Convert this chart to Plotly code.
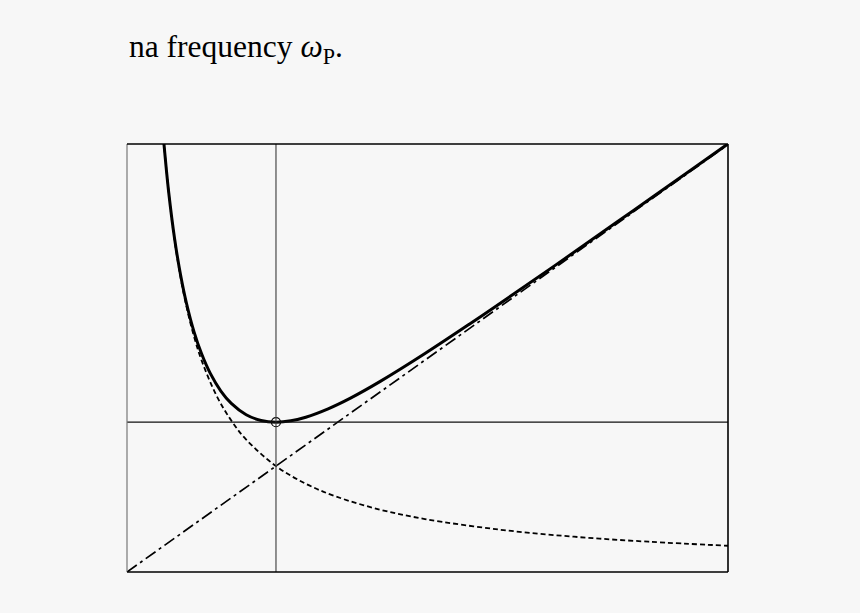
import plotly.graph_objects as go

# readings (x in units of the marked frequency)
x_solid = [0.245, 0.28, 0.32, 0.36, 0.40, 0.45, 0.50, 0.56, 0.63, 0.70, 0.80, 0.90,
           1.00, 1.10, 1.20, 1.35, 1.50, 1.70, 2.00, 2.30, 2.60, 3.00, 3.40, 3.80, 4.034]
y_solid = [4.089, 3.582, 3.141, 2.801, 2.532, 2.267, 2.062, 1.872, 1.708, 1.591, 1.484, 1.430,
           1.414, 1.427, 1.461, 1.540, 1.641, 1.799, 2.062, 2.341, 2.628, 3.018, 3.413, 3.809, 4.042]

x_dash = [0.245, 0.30, 0.35, 0.40, 0.45, 0.50, 0.60, 0.70, 0.80, 1.00, 1.20, 1.40,
          1.70, 2.00, 2.50, 3.00, 3.50, 4.034]
y_dash = [4.082, 3.333, 2.857, 2.500, 2.222, 2.000, 1.667, 1.429, 1.250, 1.000, 0.833, 0.714,
          0.588, 0.500, 0.400, 0.333, 0.286, 0.248]

x_line = [0.0, 4.034]
y_line = [0.0, 4.034]

x_min, y_min = 1.0, 1.414
x_max, y_max = 4.034, 4.04

fig = go.Figure()

# asymptote
fig.add_trace(go.Scatter(x=x_line, y=y_line, mode="lines",
                         line=dict(color="black", width=1.7, dash="12px,4px,3px,4px")))
# 1/x branch
fig.add_trace(go.Scatter(x=x_dash, y=y_dash, mode="lines", line_shape="spline",
                         line=dict(color="black", width=1.8, dash="5px,3px")))
# full curve
fig.add_trace(go.Scatter(x=x_solid, y=y_solid, mode="lines", line_shape="spline",
                         line=dict(color="black", width=3)))
# the minimum
fig.add_trace(go.Scatter(x=[x_min], y=[y_min], mode="markers",
                         marker=dict(symbol="circle-open", size=9, color="black",
                                     line=dict(width=1.2))))

shapes = [
    # cross lines through the minimum
    dict(type="line", xref="x", yref="paper", x0=x_min, x1=x_min, y0=0, y1=1,
         line=dict(color="#4a4a4a", width=1.2)),
    dict(type="line", xref="paper", yref="y", x0=0, x1=1, y0=y_min, y1=y_min,
         line=dict(color="#111111", width=1.3)),
    # frame
    dict(type="line", xref="paper", yref="paper", x0=0, x1=0, y0=0, y1=1,
         line=dict(color="#777777", width=1.2)),
    dict(type="line", xref="paper", yref="paper", x0=0, x1=1, y0=1, y1=1,
         line=dict(color="black", width=1.6)),
    dict(type="line", xref="paper", yref="paper", x0=1, x1=1, y0=0, y1=1,
         line=dict(color="black", width=1.6)),
    dict(type="line", xref="paper", yref="paper", x0=0, x1=1, y0=0, y1=0,
         line=dict(color="black", width=1.6)),
]

fig.update_layout(
    width=860, height=613,
    margin=dict(l=127, r=132, t=144, b=41),
    paper_bgcolor="#f7f7f7", plot_bgcolor="#f7f7f7",
    showlegend=False,
    shapes=shapes,
    xaxis=dict(range=[0, x_max], visible=False, showgrid=False, zeroline=False),
    yaxis=dict(range=[0, y_max], visible=False, showgrid=False, zeroline=False),
    annotations=[dict(
        text="na frequency <i>ω</i><sub>P</sub>.",
        xref="paper", yref="paper", x=0, y=1.222, xanchor="left", yanchor="middle",
        showarrow=False, font=dict(family="Liberation Serif", size=31.5, color="black"))],
)

# drop the page margin so the figure sits at the window's corner
fig.write_html("out.html", config={"displayModeBar": False},
               post_script="document.body.style.margin='0';"
               "document.body.style.background='#f7f7f7';")
